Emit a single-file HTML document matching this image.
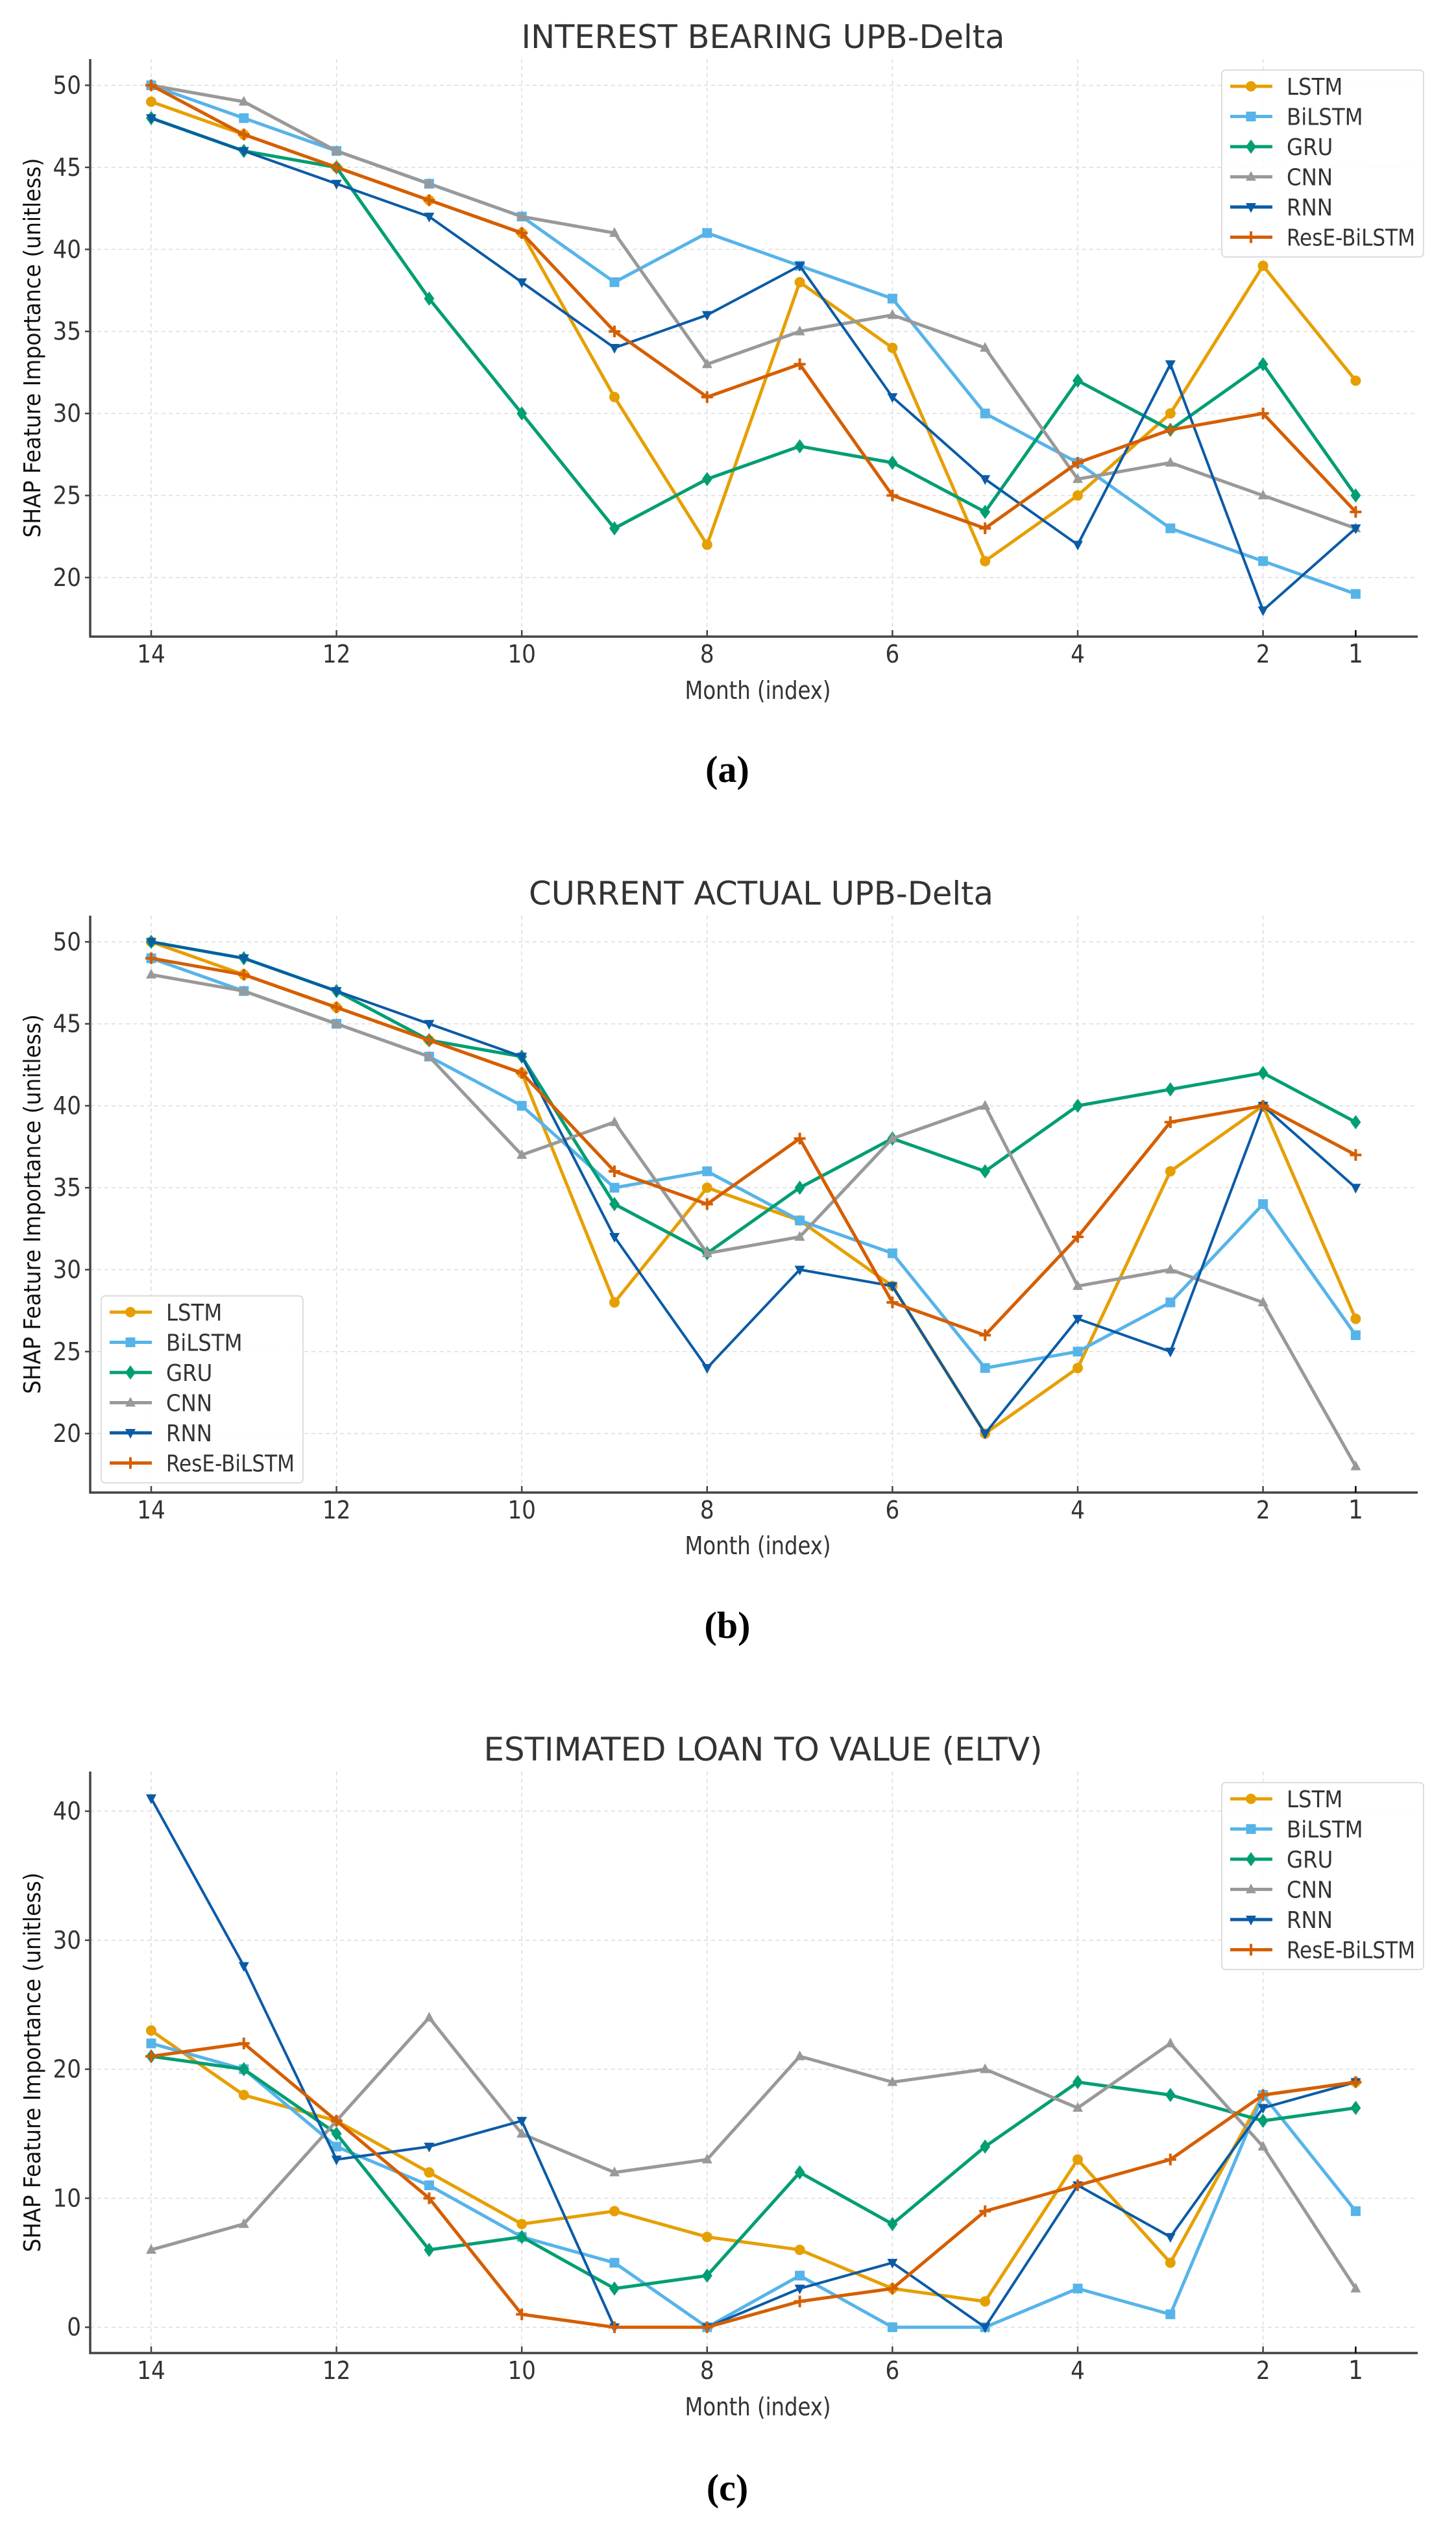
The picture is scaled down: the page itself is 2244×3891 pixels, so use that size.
<!DOCTYPE html>
<html><head><meta charset="utf-8"><style>
html,body{margin:0;padding:0;background:#fff;}
svg{display:block;}
.tk{font-family:"DejaVu Sans Condensed","DejaVu Sans",sans-serif;fill:#333;}
</style></head><body>
<svg id="fig" width="2244" height="3891" viewBox="0 0 2244 3891" xmlns="http://www.w3.org/2000/svg"></svg>
<script>
const months = [14,13,12,11,10,9,8,7,6,5,4,3,2,1];
const seriesNames = ["LSTM","BiLSTM","GRU","CNN","RNN","ResE-BiLSTM"];
const aLSTM = [49,47,45,43,41,31,22,38,34,21,25,30,39,32];
const aBiLSTM = [50,48,46,44,42,38,41,39,37,30,27,23,21,19];
const aGRU = [48,46,45,37,30,23,26,28,27,24,32,29,33,25];
const aCNN = [50,49,46,44,42,41,33,35,36,34,26,27,25,23];
const aRNN = [48,46,44,42,38,34,36,39,31,26,22,33,18,23];
const aResE = [50,47,45,43,41,35,31,33,25,23,27,29,30,24];
const bLSTM = [50,48,46,44,42,28,35,33,29,20,24,36,40,27];
const bBiLSTM = [49,47,45,43,40,35,36,33,31,24,25,28,34,26];
const bGRU = [50,49,47,44,43,34,31,35,38,36,40,41,42,39];
const bCNN = [48,47,45,43,37,39,31,32,38,40,29,30,28,18];
const bRNN = [50,49,47,45,43,32,24,30,29,20,27,25,40,35];
const bResE = [49,48,46,44,42,36,34,38,28,26,32,39,40,37];
const cLSTM = [23,18,16,12,8,9,7,6,3,2,13,5,18,19];
const cBiLSTM = [22,20,14,11,7,5,0,4,0,0,3,1,18,9];
const cGRU = [21,20,15,6,7,3,4,12,8,14,19,18,16,17];
const cCNN = [6,8,16,24,15,12,13,21,19,20,17,22,14,3];
const cRNN = [41,28,13,14,16,0,0,3,5,0,11,7,17,19];
const cResE = [21,22,16,10,1,0,0,2,3,9,11,13,18,19];
const xTickLabels = [14,12,10,8,6,4,2,1];
const abYTicks = [20,25,30,35,40,45,50];
const cYTicks = [0,10,20,30,40];

const colors = ["#E69F00","#56B4E9","#009E73","#999999","#0B5BA6","#D55E00"];
const markers = ["circle","square","diamond","tri-up","tri-down","plus"];
const NS = "http://www.w3.org/2000/svg";
const svg = document.getElementById("fig");
function el(tag, attrs, parent){const e=document.createElementNS(NS,tag);for(const k in attrs)e.setAttribute(k,attrs[k]);(parent||svg).appendChild(e);return e;}

function marker(g, kind, x, y, c){
  let m;
  if(kind==="circle") m=el("circle",{cx:x,cy:y,r:8,fill:c},g);
  else if(kind==="square") m=el("rect",{x:x-7.5,y:y-7.5,width:15,height:15,fill:c},g);
  else if(kind==="diamond") m=el("polygon",{points:`${x},${y-11} ${x+8},${y} ${x},${y+11} ${x-8},${y}`,fill:c},g);
  else if(kind==="tri-up") m=el("polygon",{points:`${x},${y-9} ${x+8},${y+6} ${x-8},${y+6}`,fill:c},g);
  else if(kind==="tri-down") m=el("polygon",{points:`${x},${y+9} ${x+8},${y-6} ${x-8},${y-6}`,fill:c},g);
  else { m=el("path",{d:`M${x-9},${y}H${x+9}M${x},${y-9}V${y+9}`,stroke:c,"stroke-width":4,fill:"none"},g); }
  return m;
}

function chart(cfg){
  const g = el("g",{});
  
  
  const L=139,R=2185,T=cfg.top,B=cfg.bottom;
  const x0=233, step=142.8;
  const xs = m => x0 + (14-m)*step;
  const ys = v => B - (v-cfg.ymin)/(cfg.ymax-cfg.ymin)*(B-T);
  // grid
  xTickLabels.forEach(m=>{ if(m!==1){ const gl=el("line",{x1:xs(m),x2:xs(m),y1:T,y2:B,stroke:"#dcdcdc","stroke-width":1.5,"stroke-dasharray":"6,5"},g);
     }});
  cfg.yticks.forEach(v=>{ const gl=el("line",{x1:L,x2:R,y1:ys(v),y2:ys(v),stroke:"#dcdcdc","stroke-width":1.5,"stroke-dasharray":"6,5"},g);
     });
  // axes
  const ax=el("path",{d:`M${L},${T}V${B}H${R}`,stroke:"#444","stroke-width":3.5,fill:"none"},g);
   
  xTickLabels.forEach(m=>{
    el("line",{x1:xs(m),x2:xs(m),y1:B,y2:B-10,stroke:m===1?"#000":"#444","stroke-width":2.5},g);
    const t=el("text",{x:xs(m),y:B+40,"text-anchor":"middle","font-size":m===1?40:38,class:"tk",fill:m===1?"#000":"#333"},g);
    t.textContent=m;
     
  });
  cfg.yticks.forEach(v=>{
    el("line",{x1:L,x2:L-8,y1:ys(v),y2:ys(v),stroke:"#444","stroke-width":2.5},g);
    const t=el("text",{x:125,y:ys(v)+13,"text-anchor":"end","font-size":38,class:"tk"},g);
    t.textContent=v;
     
  });
  // title
  const ti=el("text",{x:cfg.tcx,y:cfg.titleY+18,"text-anchor":"middle","font-size":50,class:"tk",fill:"#333",textLength:cfg.tw,lengthAdjust:"spacingAndGlyphs"},g);
  ti.textContent=cfg.title;
   
  const yl=el("text",{x:0,y:0,"text-anchor":"middle","font-size":36,"font-family":"DejaVu Sans, sans-serif",fill:"#111",textLength:585,lengthAdjust:"spacingAndGlyphs",transform:`translate(62,${(T+B)/2}) rotate(-90)`},g);
  yl.textContent="SHAP Feature Importance (unitless)";
   
  const xl=el("text",{x:1168,y:cfg.xlabelY+13,"text-anchor":"middle","font-size":38,class:"tk",fill:"#111",textLength:225,lengthAdjust:"spacingAndGlyphs"},g);
  xl.textContent="Month (index)";
   
  const cap=el("text",{x:1121,y:cfg.capY+18,"text-anchor":"middle","font-size":58,"font-family":"Liberation Serif, serif","font-weight":"bold",fill:"#000"},g);
  cap.textContent=cfg.cap;
   
  // series
  cfg.data.forEach((arr,i)=>{
    const sg=el("g",{},g);
    
    
    const d=arr.map((v,j)=>(j?"L":"M")+xs(months[j])+","+ys(v)).join("");
    const p=el("path",{d:d,stroke:colors[i],"stroke-width":i===4?4:5,fill:"none","stroke-linejoin":"round"},sg);
     
    arr.forEach((v,j)=>{ const m=marker(sg,markers[i],xs(months[j]),ys(v),colors[i]);
       });
  });
  // legend
  const lg=el("g",{},g);
   
  const lgx=cfg.lx, lgy=cfg.ly;
  el("rect",{x:lgx,y:lgy,width:311,height:288,rx:6,fill:"#fff","fill-opacity":0.85,stroke:"#ddd","stroke-width":2},lg);
  seriesNames.forEach((n,i)=>{
    const yy=lgy+25+i*46.5;
    const le=el("g",{},lg);
     
    el("line",{x1:lgx+13,x2:lgx+78,y1:yy,y2:yy,stroke:colors[i],"stroke-width":5},le);
    marker(le,markers[i],lgx+45,yy,colors[i]);
    const t=el("text",{x:lgx+100,y:yy+13,"font-size":36,class:"tk",fill:"#333"},le);
    if(n==="ResE-BiLSTM"){t.setAttribute("textLength",198);t.setAttribute("lengthAdjust","spacingAndGlyphs");}
    t.textContent=n;
  });
}

chart({name:"chart-interest-bearing",top:91,bottom:981,ymin:16.4,ymax:51.6,yticks:abYTicks,
  title:"INTEREST BEARING UPB-Delta",tcx:1176,tw:745,titleY:56,xlabelY:1064,capY:1187,cap:"(a)",
  data:[aLSTM,aBiLSTM,aGRU,aCNN,aRNN,aResE],lx:1883,ly:108});
chart({name:"chart-current-actual",top:1411,bottom:2300,ymin:16.4,ymax:51.6,yticks:abYTicks,
  title:"CURRENT ACTUAL UPB-Delta",tcx:1173,tw:716,titleY:1376,xlabelY:2382,capY:2506,cap:"(b)",
  data:[bLSTM,bBiLSTM,bGRU,bCNN,bRNN,bResE],lx:156,ly:1997});
chart({name:"chart-eltv",top:2730,bottom:3626,ymin:-2.0,ymax:43.07,yticks:cYTicks,
  title:"ESTIMATED LOAN TO VALUE (ELTV)",tcx:1176,tw:861,titleY:2695,xlabelY:3709,capY:3835,cap:"(c)",
  data:[cLSTM,cBiLSTM,cGRU,cCNN,cRNN,cResE],lx:1883,ly:2747});
</script>
</body></html>
